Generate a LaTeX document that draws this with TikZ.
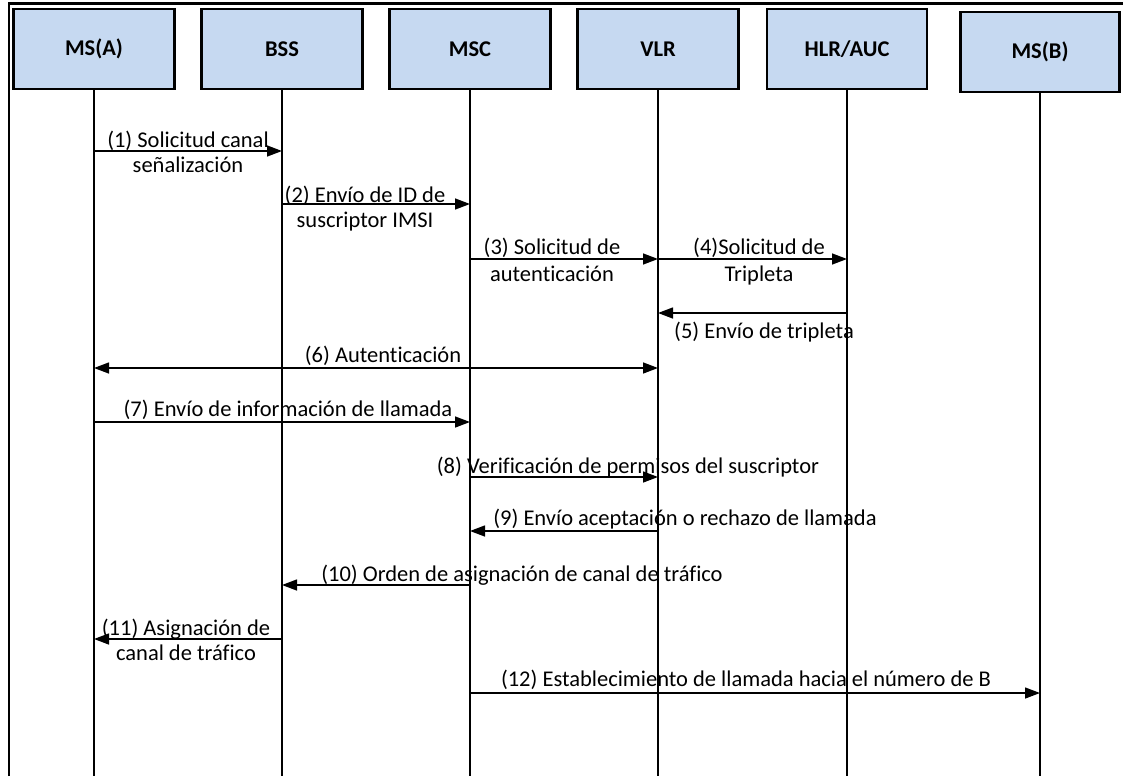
\documentclass[tikz,border=0pt]{standalone}
\usepackage{fontspec}
\setmainfont[Ligatures=NoCommon]{Carlito}
\usetikzlibrary{arrows.meta}
\definecolor{boxblue}{HTML}{C6D9F1}
\begin{document}
\begin{tikzpicture}[x=1pt,y=-1pt,
  ent/.style={draw, line width=2.6pt, fill=boxblue, minimum width=161pt, minimum height=80pt,
    font=\fontsize{22.5}{26}\selectfont\bfseries, inner sep=0pt},
  life/.style={line width=2.6pt},
  msg/.style={line width=1.4pt, -{Triangle[length=15pt,width=11pt]}},
  dmsg/.style={line width=1.4pt, {Triangle[length=15pt,width=11pt]}-{Triangle[length=15pt,width=11pt]}},
  lbl/.style={font=\fontsize{22.5}{26}\selectfont, inner sep=0pt, anchor=base},
  frame/.style={line width=2.8pt}
]
\useasboundingbox (0,0) rectangle (1123,776);
\draw[frame] (9,776) -- (9,3.5) -- (1123,3.5);

% entities
\node[ent] (msa) at (94,49) {MS(A)};
\node[ent] (bss) at (282,49) {BSS};
\node[ent] (msc) at (470,49) {MSC};
\node[ent] (vlr) at (658,49) {VLR};
\node[ent, minimum width=160pt] (hlr) at (847,49) {HLR/AUC};
\node[ent, minimum width=159pt] (msb) at (1040,52) {MS(B)};

% lifeline ends
\coordinate (msaE) at (94,776);
\coordinate (bssE) at (282,776);
\coordinate (mscE) at (470,776);
\coordinate (vlrE) at (658,776);
\coordinate (hlrE) at (847,776);
\coordinate (msbE) at (1040,776);
\draw[life] (msa.south) -- (msaE);
\draw[life] (bss.south) -- (bssE);
\draw[life] (msc.south) -- (mscE);
\draw[life] (vlr.south) -- (vlrE);
\draw[life] (hlr.south) -- (hlrE);
\draw[life] (msb.south) -- (msbE);

% (1)
\draw[msg] (msa |- 0,151) -- (bss |- 0,151);
\node[lbl] (l1a) at (188,147) {(1) Solicitud canal};
\node[lbl] (l1b) at (188,172) {señalización};
% (2)
\draw[msg] (bss |- 0,204) -- (msc |- 0,204);
\node[lbl] (l2a) at (365,202) {(2) Envío de ID de};
\node[lbl] (l2b) at (365,227) {suscriptor IMSI};
% (3)
\draw[msg] (msc |- 0,259) -- (vlr |- 0,259);
\node[lbl] (l3a) at (552,254) {(3) Solicitud de};
\node[lbl] (l3b) at (552,281) {autenticación};
% (4)
\draw[msg] (vlr |- 0,259) -- (hlr |- 0,259);
\node[lbl] (l4a) at (759,254) {(4)Solicitud de};
\node[lbl] (l4b) at (759,281) {Tripleta};
% (5)
\draw[msg] (hlr |- 0,313) -- (vlr |- 0,313);
\node[lbl] (l5) at (764,338) {(5) Envío de tripleta};
% (6)
\draw[dmsg] (msa |- 0,368) -- (vlr |- 0,368);
\node[lbl] (l6) at (383,362) {(6) Autenticación};
% (7)
\draw[msg] (msa |- 0,422) -- (msc |- 0,422);
\node[lbl] (l7) at (288,416) {(7) Envío de información de llamada};
% (8)
\draw[msg] (msc |- 0,477) -- (vlr |- 0,477);
\node[lbl] (l8) at (628,473) {(8) Verificación de permisos del suscriptor};
% (9)
\draw[msg] (vlr |- 0,531) -- (msc |- 0,531);
\node[lbl] (l9) at (685,525) {(9) Envío aceptación o rechazo de llamada};
% (10)
\draw[msg] (msc |- 0,585) -- (bss |- 0,585);
\node[lbl] (l10) at (522,581) {(10) Orden de asignación de canal de tráfico};
% (11)
\draw[msg] (bss |- 0,639) -- (msa |- 0,639);
\node[lbl] (l11a) at (186,635) {(11) Asignación de};
\node[lbl] (l11b) at (186,660) {canal de tráfico};
% (12)
\draw[msg] (msc |- 0,693) -- (msb |- 0,693);
\node[lbl] (l12) at (746,686) {(12) Establecimiento de llamada hacia el número de B};
\end{tikzpicture}
\end{document}
